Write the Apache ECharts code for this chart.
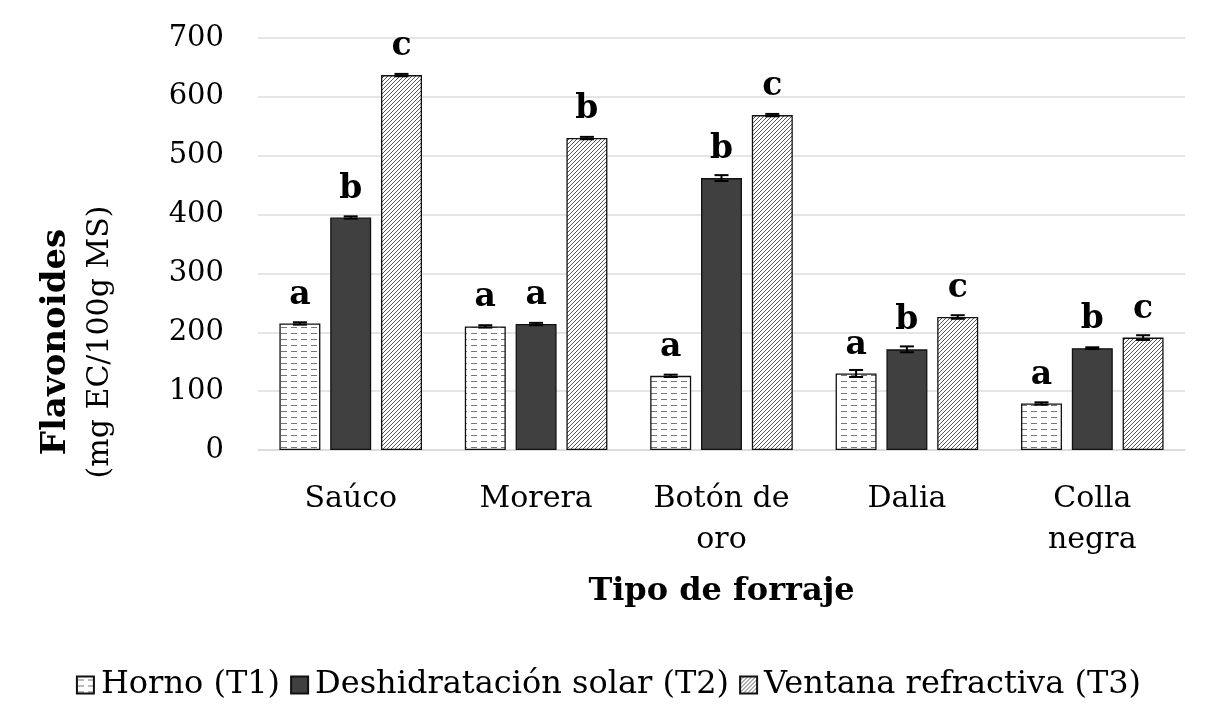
<!DOCTYPE html>
<html>
<head>
<meta charset="utf-8">
<script src="https://cdn.jsdelivr.net/npm/echarts@6/dist/echarts.min.js"></script>
<style>
  html, body { margin: 0; padding: 0; background: #fff; }
  #chart { width: 1217px; height: 721px; }
</style>
</head>
<body>
<div id="chart"></div>
<script>
const categories = ['Saúco', 'Morera', 'Botón de\noro', 'Dalia', 'Colla\nnegra'];
const seriesNames = ['Horno (T1)', 'Deshidratación solar (T2)', 'Ventana refractiva (T3)'];
const horno = [215, 210, 126, 130, 79];
const solar = [395, 214, 462, 171, 173];
const ventana = [637, 530, 569, 226, 191];
const hornoErr = [2, 2, 2, 6, 2];
const solarErr = [2, 2, 5, 5, 1.5];
const ventanaErr = [2, 2, 2, 3, 4];
const hornoLetters = ['a', 'a', 'a', 'a', 'a'];
const solarLetters = ['b', 'a', 'b', 'b', 'b'];
const ventanaLetters = ['c', 'b', 'c', 'c', 'c'];

const FONT = 'DejaVu Serif';
const BAR_W = 0.221;   // fraction of category width
const BAR_GAP = 0.24;  // fraction of bar width

// dashed rows fill
function dashPattern() {
    const c = document.createElement('canvas');
    c.width = 10; c.height = 6;
    const ctx = c.getContext('2d');
    ctx.fillStyle = '#fff';
    ctx.fillRect(0, 0, 10, 6);
    ctx.strokeStyle = '#777';
    ctx.lineWidth = 1;
    ctx.beginPath();
    ctx.moveTo(1, 3.5); ctx.lineTo(7, 3.5);
    ctx.stroke();
    return c;
}

// diagonal hatching fill
function hatchPattern() {
    const s = 4;
    const c = document.createElement('canvas');
    c.width = s; c.height = s;
    const ctx = c.getContext('2d');
    ctx.fillStyle = '#fff';
    ctx.fillRect(0, 0, s, s);
    ctx.strokeStyle = '#555';
    ctx.lineWidth = 1;
    ctx.beginPath();
    for (let k = -1; k <= 1; k++) {
        ctx.moveTo(k * s - 1, s + 1);
        ctx.lineTo(k * s + s + 1, -1);
    }
    ctx.stroke();
    return c;
}

const fills = [
    { image: dashPattern(), repeat: 'repeat' },
    '#404040',
    { image: hatchPattern(), repeat: 'repeat' }
];
const values = [horno, solar, ventana];
const errs = [hornoErr, solarErr, ventanaErr];
const letters = [hornoLetters, solarLetters, ventanaLetters];

const barSeries = values.map((vals, s) => ({
    name: seriesNames[s],
    type: 'bar',
    data: vals,
    barWidth: (BAR_W * 100) + '%',
    barGap: (BAR_GAP * 100) + '%',
    itemStyle: { color: fills[s], borderColor: '#111', borderWidth: 1.3 },
    label: {
        show: true,
        position: 'top',
        distance: 12,
        formatter: (p) => letters[s][p.dataIndex],
        fontFamily: FONT,
        fontWeight: 'bold',
        fontSize: 33,
        color: '#000'
    },
    emphasis: { disabled: true }
}));

const errData = [];
values.forEach((vals, s) => {
    vals.forEach((v, i) => errData.push([i, v, errs[s][i], s]));
});

const errorSeries = {
    type: 'custom',
    z: 5,
    silent: true,
    data: errData,
    renderItem: (params, api) => {
        const cat = api.value(0), v = api.value(1), e = api.value(2), s = api.value(3);
        const catW = api.size([1, 0])[0];
        const bw = catW * BAR_W;
        const x = api.coord([cat, v])[0] + (s - 1) * bw * (1 + BAR_GAP);
        const yHi = api.coord([cat, v + e])[1];
        const yLo = api.coord([cat, v - e])[1];
        const half = 7;
        const style = { stroke: '#000', lineWidth: 2 };
        return {
            type: 'group',
            children: [
                { type: 'line', shape: { x1: x, y1: yHi, x2: x, y2: yLo }, style },
                { type: 'line', shape: { x1: x - half, y1: yHi, x2: x + half, y2: yHi }, style },
                { type: 'line', shape: { x1: x - half, y1: yLo, x2: x + half, y2: yLo }, style }
            ]
        };
    }
};

const chart = echarts.init(document.getElementById('chart'));
chart.setOption({
    animation: false,
    backgroundColor: '#fff',
    textStyle: { fontFamily: FONT },
    grid: { left: 258, right: 32, top: 38, bottom: 271 },
    legend: {
        data: seriesNames,
        top: 664,
        left: 'center',
        icon: 'rect',
        itemWidth: 17,
        itemHeight: 17,
        itemGap: 10,
        textStyle: { fontFamily: FONT, fontSize: 32, color: '#000', padding: [0, 0, 0, 2] },
        selectedMode: false
    },
    graphic: [{
        type: 'text',
        x: 78,
        y: 342,
        rotation: Math.PI / 2,
        style: {
            text: '{b|Flavonoides}\n{n|(mg EC/100g MS)}',
            align: 'center',
            verticalAlign: 'middle',
            fill: '#000',
            rich: {
                b: { fontFamily: FONT, fontSize: 34, fontWeight: 'bold', lineHeight: 44, fill: '#000', align: 'center' },
                n: { fontFamily: FONT, fontSize: 30, lineHeight: 44, fill: '#000', align: 'center' }
            }
        }
    }],
    xAxis: {
        type: 'category',
        data: categories,
        axisTick: { show: false },
        axisLine: { lineStyle: { color: '#d9d9d9', width: 1.5 } },
        axisLabel: { fontFamily: FONT, fontSize: 30, color: '#000', lineHeight: 41, margin: 29 },
        name: 'Tipo de forraje',
        nameLocation: 'middle',
        nameGap: 126,
        nameTextStyle: { fontFamily: FONT, fontSize: 32, fontWeight: 'bold', color: '#000' }
    },
    yAxis: {
        type: 'value',
        min: 0,
        max: 700,
        interval: 100,
        axisLine: { show: false },
        axisTick: { show: false },
        splitLine: { lineStyle: { color: '#dadde4', width: 1.5 } },
        axisLabel: { fontFamily: FONT, fontSize: 29, color: '#000', margin: 34, padding: [6, 0, 0, 0] }
    },
    series: [...barSeries, errorSeries]
});
</script>
</body>
</html>
